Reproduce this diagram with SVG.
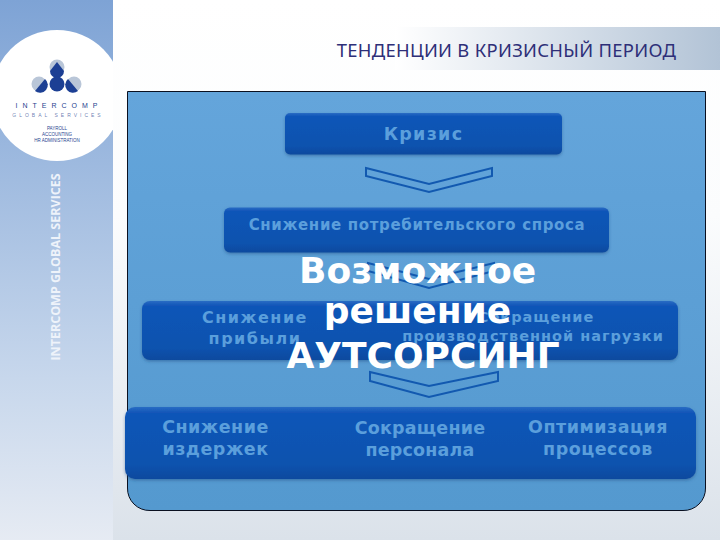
<svg xmlns="http://www.w3.org/2000/svg" width="720" height="540" viewBox="0 0 720 540">
<style>
text{font-family:"DejaVu Sans",sans-serif;font-weight:700;text-anchor:middle}
.l{fill:#5b9fdc}
.w{fill:#fff;font-size:36px}
.c{fill:none;stroke:#1259b0;stroke-width:2}
.n{fill:url(#b);filter:url(#s)}
.lg{fill:#1f3f8f;font-family:"Liberation Sans",sans-serif;font-weight:400}
</style>
<defs>
<linearGradient id="bg" x1="0" y1="0" x2="0" y2="1"><stop offset="0" stop-color="#fff"/><stop offset=".4" stop-color="#fbfcfd"/><stop offset="1" stop-color="#dbe2ea"/></linearGradient>
<linearGradient id="side" x1="0" y1="0" x2="0" y2="1"><stop offset="0" stop-color="#7ea3d5"/><stop offset=".7" stop-color="#c7d7ec"/><stop offset="1" stop-color="#e6ebf3"/></linearGradient>
<linearGradient id="hd" x1="0" y1="0" x2="1" y2="0"><stop offset="0" stop-color="#fff"/><stop offset="1" stop-color="#b2c3d6"/></linearGradient>
<linearGradient id="pn" x1="0" y1="0" x2="0" y2="1"><stop offset="0" stop-color="#64a5db"/><stop offset="1" stop-color="#5499cf"/></linearGradient>
<linearGradient id="b" x1="0" y1="0" x2="0" y2="1"><stop offset="0" stop-color="#2a6cc4"/><stop offset=".08" stop-color="#1155b8"/><stop offset=".8" stop-color="#0f52ae"/><stop offset="1" stop-color="#0b4a9e"/></linearGradient>
<filter id="s" x="-5%" y="-10%" width="110%" height="125%"><feDropShadow dx="0" dy="1.500" stdDeviation="1.500" flood-color="#1d4f86" flood-opacity=".5"/></filter>
<clipPath id="sc"><rect width="113" height="540"/></clipPath>
</defs>
<rect width="720" height="540" fill="url(#bg)"/>
<rect x="395" y="27" width="325" height="43" fill="url(#hd)"/>
<rect width="113" height="540" fill="url(#side)"/>
<g id="logo">
<circle cx="57" cy="95.500" r="65.500" fill="#fff" clip-path="url(#sc)"/>
<circle cx="57" cy="67" r="7.500" fill="#b9c6d8"/><path d="M57 62L64 71A7 7 0 0 1 50 71Z" fill="#1c3f94"/>
<circle cx="39" cy="84" r="7.500" fill="#b9c6d8"/><path d="M45 79A7.500 7.500 0 0 1 35 91Z" fill="#1c3f94"/>
<circle cx="57" cy="84" r="7.500" fill="#1c3f94"/>
<circle cx="74" cy="84" r="7.500" fill="#b9c6d8"/><path d="M68 79A7.500 7.500 0 0 0 78 91Z" fill="#1c3f94"/>
<text class="lg" x="59" y="108" font-size="7" letter-spacing="5">INTERCOMP</text>
<text class="lg" x="58" y="117" font-size="5" letter-spacing="3" fill-opacity=".7">GLOBAL SERVICES</text>
<text class="lg" x="57" y="130" font-size="4.500">PAYROLL</text>
<text class="lg" x="57" y="136" font-size="4.500">ACCOUNTING</text>
<text class="lg" x="57" y="142" font-size="4.500">HR ADMINISTRATION</text>
</g>
<text transform="translate(60 267) rotate(-90)" style="font-family:'Open Sans',sans-serif;font-size:12.500px;fill:#eef3fa">INTERCOMP GLOBAL SERVICES</text>
<text x="506.500" y="57" style="font-family:'Noto Sans',sans-serif;font-weight:400;font-size:18.400px;fill:#2e2f78;letter-spacing:.3px">ТЕНДЕНЦИИ В КРИЗИСНЫЙ ПЕРИОД</text>
<path d="M127.500 91.500H705.500V488A22 22 0 0 1 683 510.500H150A22 22 0 0 1 127.500 488Z" fill="url(#pn)" stroke="#0a1020" stroke-width="1"/>
<g id="connectors">
<path class="c" d="M366 168L429 184L492 168V176L429 192L366 176Z"/>
<path class="c" d="M368 263L429 279L494 263V271L429 288L368 271Z"/>
<path class="c" d="M370 372L429 386L498 372V381L429 397L370 381Z"/>
</g>
<g id="n1"><rect class="n" x="285" y="113" width="277" height="41.500" rx="5"/><text class="l" x="423.500" y="140" font-size="17.500" letter-spacing="1.300">Кризис</text></g>
<g id="n2"><rect class="n" x="224" y="207.500" width="385" height="45" rx="6"/><text class="l" x="417" y="230" font-size="15" letter-spacing=".65">Снижение потребительского спроса</text></g>
<g id="n3"><rect class="n" x="142" y="301" width="536" height="59" rx="8"/>
<text class="l" x="255" y="323" font-size="16" letter-spacing="1.500">Снижение</text><text class="l" x="255" y="344" font-size="16" letter-spacing="1.500">прибыли</text>
<text class="l" x="536" y="322" font-size="14.500" letter-spacing="1">Сокращение</text><text class="l" x="533" y="341" font-size="14.500" letter-spacing="1">производственной нагрузки</text></g>
<g id="n4"><rect class="n" x="125" y="407" width="571" height="72" rx="10"/>
<text class="l" x="215.500" y="433" font-size="17.500" letter-spacing=".5">Снижение</text><text class="l" x="215.500" y="455" font-size="17.500" letter-spacing=".5">издержек</text>
<text class="l" x="420" y="434" font-size="17.500" letter-spacing=".2">Сокращение</text><text class="l" x="420" y="456" font-size="17.500" letter-spacing=".2">персонала</text>
<text class="l" x="598" y="433" font-size="17.500" letter-spacing=".5">Оптимизация</text><text class="l" x="598" y="455" font-size="17.500" letter-spacing=".5">процессов</text></g>
<g id="overlay"><text class="w" x="417.500" y="283">Возможное</text><text class="w" x="417.500" y="323">решение</text><text class="w" x="423" y="368">АУТСОРСИНГ</text></g>
</svg>
